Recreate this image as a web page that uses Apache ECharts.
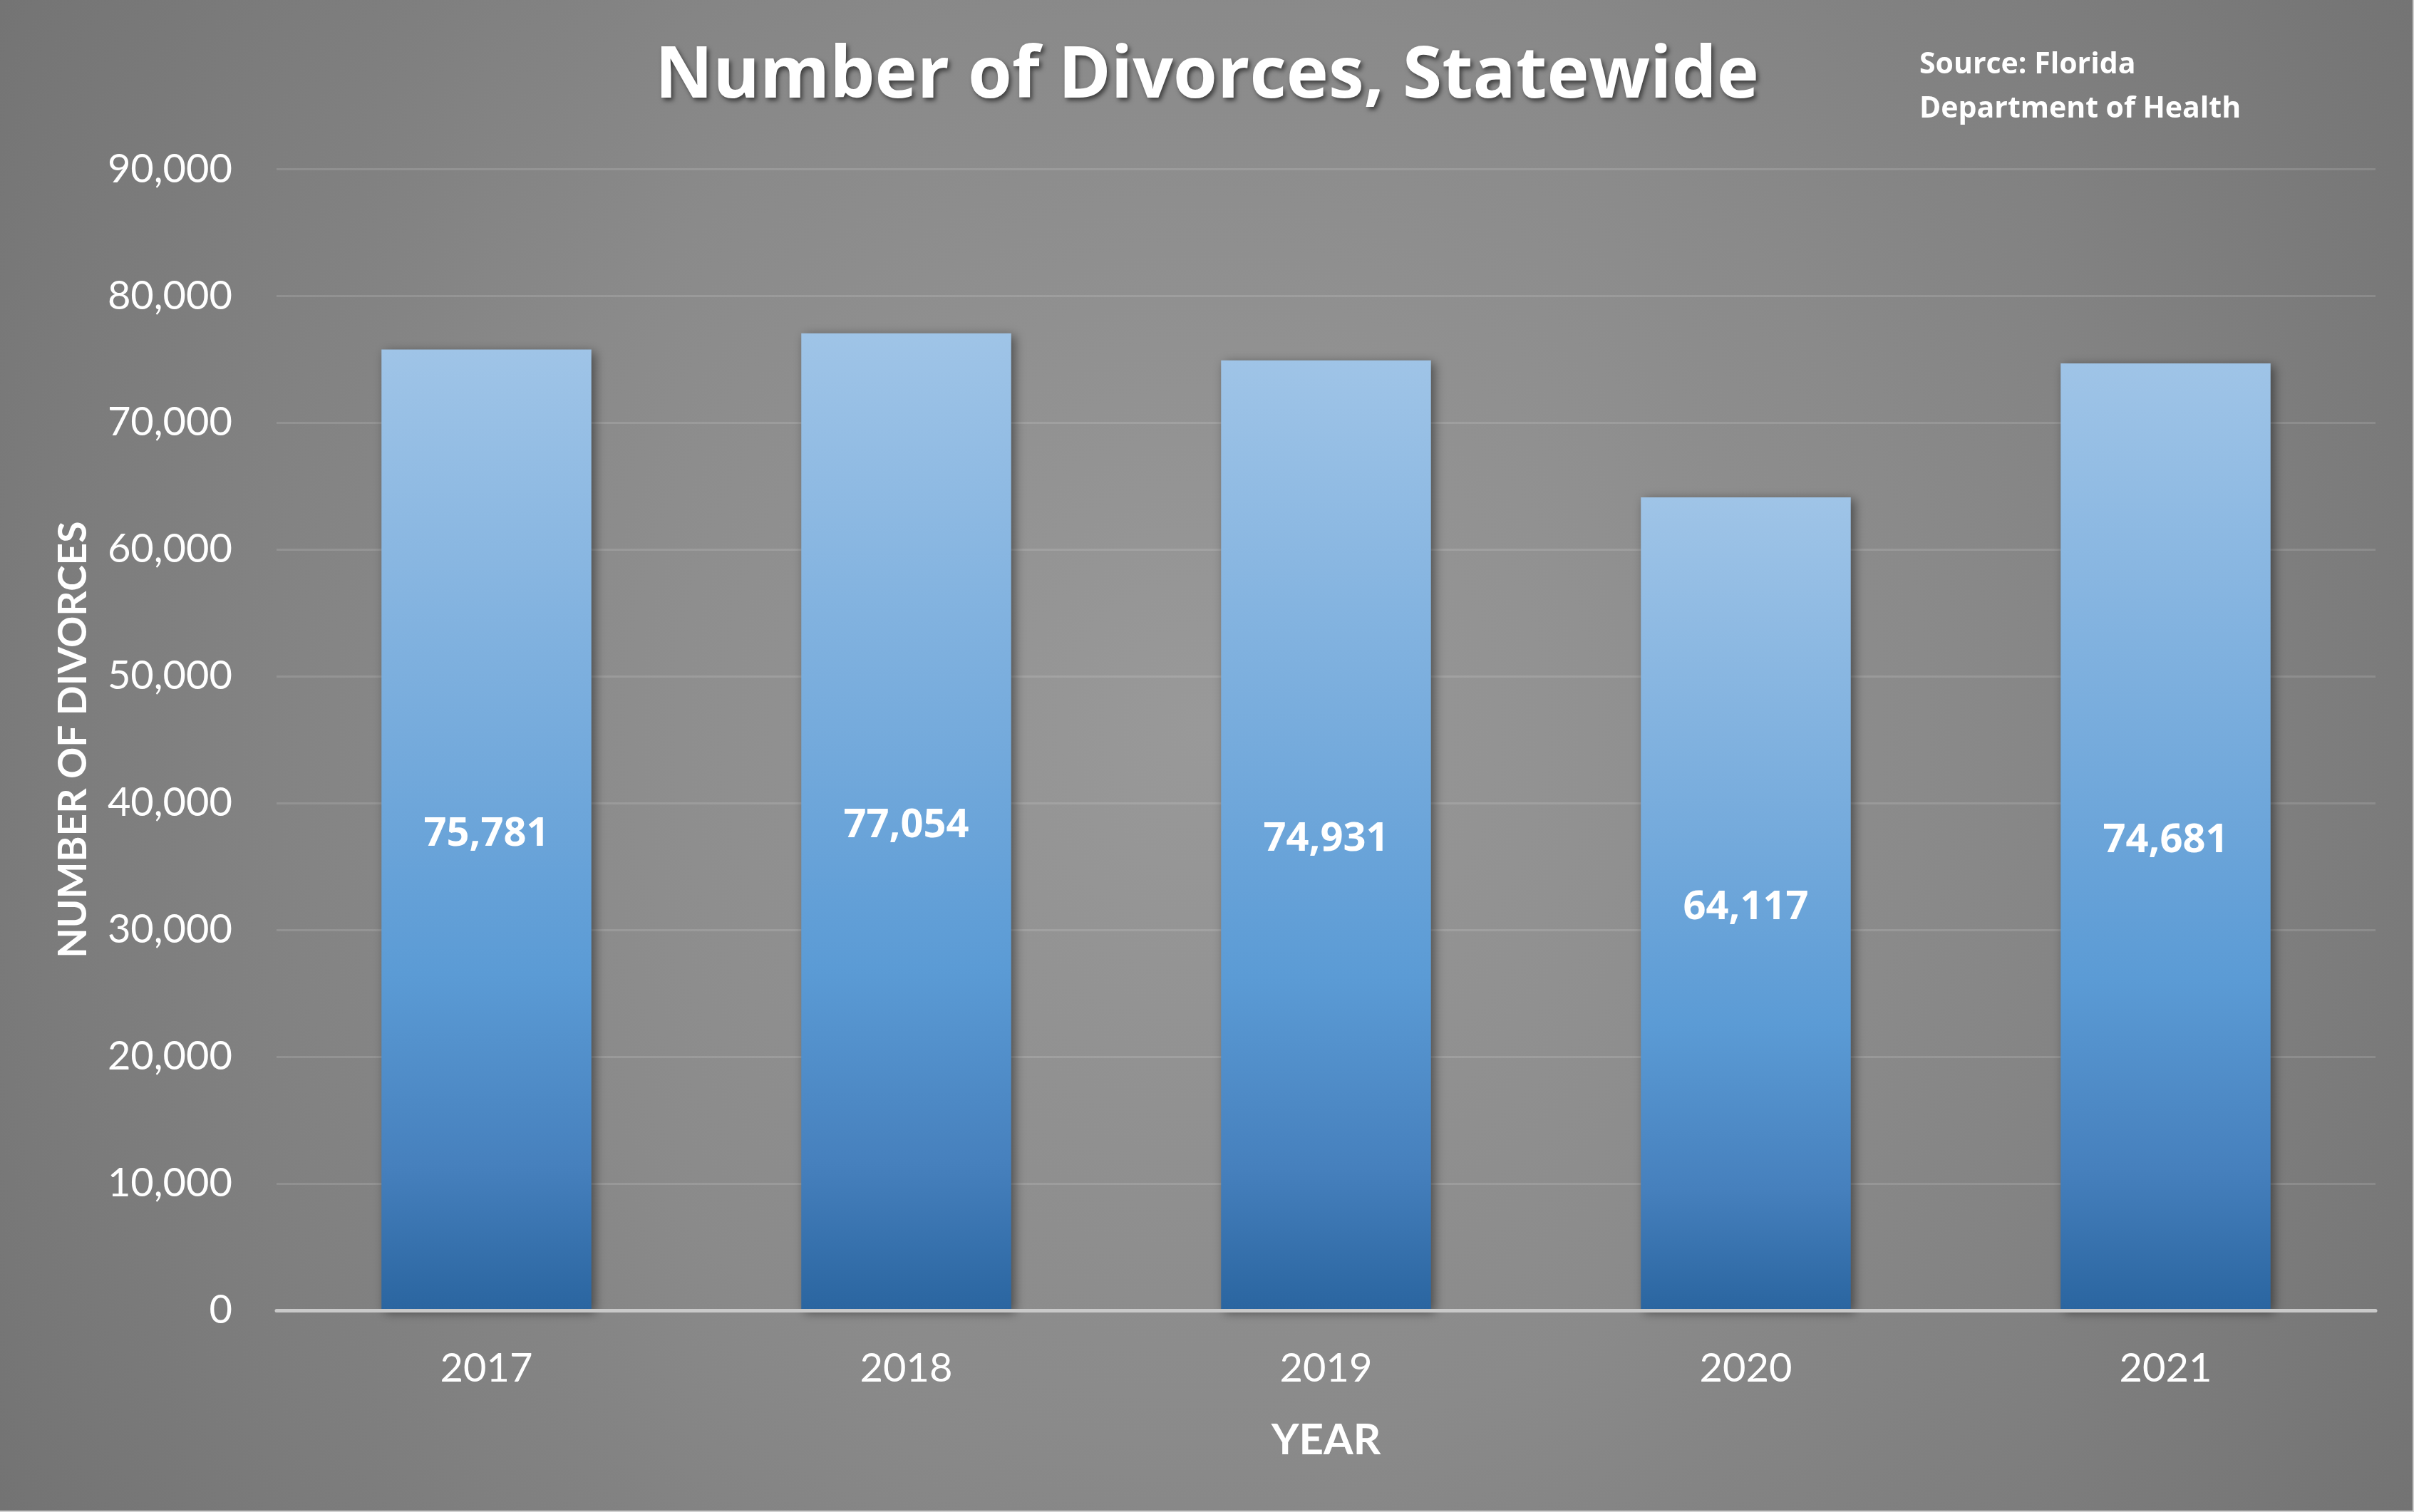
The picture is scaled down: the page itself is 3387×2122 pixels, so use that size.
<!DOCTYPE html>
<html>
<head>
<meta charset="utf-8">
<style>
html,body{margin:0;padding:0;background:#7a7a7a;}
#chart{width:3387px;height:2122px;}
</style>
<script src="https://cdn.jsdelivr.net/npm/echarts@6/dist/echarts.min.js"></script>
</head>
<body>
<div id="chart"></div>
<script>
const categories = ['2017', '2018', '2019', '2020', '2021'];
const divorces = [75781, 77054, 74931, 64117, 74681];
const yTicks = { min: 0, max: 90000, interval: 10000 };

const fmt = v => Number(v).toLocaleString('en-US');
const chart = echarts.init(document.getElementById('chart'));
const FONT = 'Lato';

chart.setOption({
  backgroundColor: {
    type: 'radial', x: 0.5, y: 0.48, r: 0.95,
    colorStops: [
      { offset: 0, color: '#999999' },
      { offset: 0.5, color: '#8a8a8a' },
      { offset: 1, color: '#737373' }
    ]
  },
  animation: false,
  title: {
    text: 'Number of Divorces, Statewide',
    left: 'center',
    top: 54,
    textStyle: {
      fontFamily: 'Open Sans', fontWeight: 'bold', fontSize: 100, color: '#ffffff',
      textShadowColor: 'rgba(0,0,0,0.55)', textShadowBlur: 6,
      textShadowOffsetX: 3, textShadowOffsetY: 4
    }
  },
  graphic: [
    {
      type: 'text', left: 2693, top: 60,
      style: {
        text: 'Source: Florida\nDepartment of Health',
        fontFamily: 'Open Sans', fontWeight: 'bold', fontSize: 41,
        lineHeight: 62, fill: '#ffffff'
      }
    },
    { type: 'rect', shape: { x: 0, y: 2120, width: 3387, height: 2 }, style: { fill: '#d0d0d0' }, silent: true },
    { type: 'rect', shape: { x: 3385, y: 0, width: 2, height: 2122 }, style: { fill: '#d0d0d0' }, silent: true }
  ],
  grid: { left: 388, right: 54, top: 237.5, bottom: 283, containLabel: false },
  xAxis: {
    type: 'category',
    data: categories,
    name: 'YEAR',
    nameLocation: 'middle',
    nameGap: 153,
    nameTextStyle: { fontFamily: FONT, fontWeight: 'bold', fontSize: 60, color: '#ffffff' },
    axisLine: { show: true, lineStyle: { color: '#c9c9c9', width: 5 } },
    axisTick: { show: false },
    axisLabel: { fontFamily: FONT, fontSize: 56, color: '#ffffff', margin: 54 },
    z: 3
  },
  yAxis: {
    type: 'value',
    min: yTicks.min, max: yTicks.max, interval: yTicks.interval,
    name: 'NUMBER OF DIVORCES',
    nameLocation: 'middle',
    nameGap: 257,
    nameRotate: 90,
    nameTextStyle: { fontFamily: FONT, fontWeight: 'bold', fontSize: 55, color: '#ffffff' },
    axisLine: { show: false },
    axisTick: { show: false },
    axisLabel: { fontFamily: FONT, fontSize: 56, color: '#ffffff', margin: 62, formatter: v => fmt(v) },
    splitLine: { lineStyle: { color: 'rgba(255,255,255,0.13)', width: 3 } }
  },
  series: [{
    type: 'bar',
    data: divorces,
    barCategoryGap: '50%',
    itemStyle: {
      color: {
        type: 'linear', x: 0, y: 0, x2: 0, y2: 1,
        colorStops: [
          { offset: 0, color: '#9fc4e7' },
          { offset: 0.4, color: '#76abdc' },
          { offset: 0.65, color: '#5b9bd5' },
          { offset: 0.85, color: '#4680bd' },
          { offset: 1, color: '#2a65a0' }
        ]
      },
      shadowColor: 'rgba(0,0,0,0.45)', shadowBlur: 14,
      shadowOffsetX: 5, shadowOffsetY: 3
    },
    label: {
      show: true, position: 'inside', offset: [0, 6],
      fontFamily: 'Open Sans', fontWeight: 'bold', fontSize: 56, color: '#ffffff',
      formatter: p => fmt(p.value)
    }
  }]
});
</script>
</body>
</html>
